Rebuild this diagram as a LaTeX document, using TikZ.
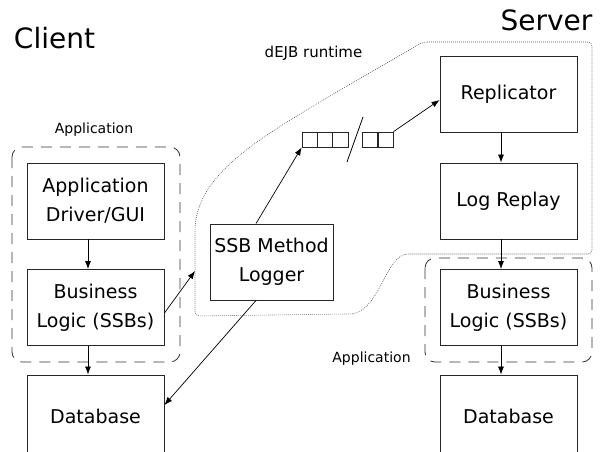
\documentclass[tikz,border=0pt]{standalone}
\usepackage{fontspec}
\setmainfont{DejaVu Sans}
\usetikzlibrary{arrows.meta}
\tikzset{
  box/.style={draw=black!85,line width=0.9pt,minimum width=137pt,minimum height=76pt,inner sep=2pt,align=center,font=\fontsize{19}{29}\selectfont},
  cell/.style={draw=black!85,line width=0.8pt,minimum width=15.3pt,minimum height=15pt,inner sep=0pt},
  appl/.style={draw=black!80,line width=0.8pt,dash pattern=on 11pt off 8pt,rounded corners=10pt},
  runtime/.style={draw=black!70,line width=0.6pt,dash pattern=on 0.8pt off 1.2pt,rounded corners=4pt},
  link/.style={-{Latex[length=8pt,width=6pt]},line width=0.7pt},
}
\begin{document}
\begin{tikzpicture}[x=1pt,y=-1pt]
 	\clip (0,0) rectangle (607,451);
 	\node[anchor=base,font=\fontsize{28}{34}\selectfont] (cli) at (54.5,48) {Client};
 	\node[anchor=base,font=\fontsize{28}{34}\selectfont] (srv) at (546.5,30) {Server};
 	\node[anchor=base,font=\fontsize{15}{18}\selectfont] (rtl) at (313.5,57) {dEJB runtime};
 	\draw[runtime] (423,42) -- (592,42) -- (592,254) -- (412,254) .. controls (385,254) and (380,314) .. (345,314) -- (195,316) -- (195,235) .. controls (195,175) and (260,138) .. (330,96) -- cycle;
 	\draw[appl] (12,147) rectangle (180,362);
 	\draw[appl] (425,258) rectangle (592,362);
 	\node[anchor=base,font=\fontsize{14}{17}\selectfont] (apl) at (94,133) {Application};
 	\node[anchor=base,font=\fontsize{14}{17}\selectfont] (apr) at (371.5,362) {Application};
 	\node[box] (drv) at (95.5,201) {Application\\Driver/GUI};
 	\node[box] (bll) at (95.5,307.5) {Business\\Logic (SSBs)};
 	\node[box,minimum height=82pt] (dbl) at (95.5,416) {Database};
 	\node[box,minimum width=123pt] (lgr) at (271.5,262) {SSB Method\\Logger};
 	\node[box] (rep) at (508.5,94) {Replicator};
 	\node[box] (lrp) at (508.5,201) {Log Replay};
 	\node[box] (blr) at (508.5,307.5) {Business\\Logic (SSBs)};
 	\node[box,minimum height=82pt] (dbr) at (508.5,416) {Database};
 	\foreach \i in {0,1,2}
 	   	\node[cell] (q\i) at ({309.7+15.33*\i},139.5) {};
 	\foreach \i in {0,1}
 	   	\node[cell] (r\i) at ({370.5+15*\i},139.5) {};
 	\draw[line width=0.8pt] (347,162) -- (363,117);
 	\foreach \a/\b in {drv/bll,bll/dbl,rep/lrp,lrp/blr,blr/dbr}
 	   	\draw[link] ([xshift=-7.5pt]\a.south) -- ([xshift=-7.5pt]\b.north);
 	\coordinate (edg) at (195,271);
 	\draw[link] ([yshift=-5.5pt]bll.east) -- (edg);
 	\draw[link] ([xshift=-15.5pt]lgr.north) -- (q0.south west);
 	\draw[link] ([xshift=-15.5pt]lgr.south) -- ([yshift=11pt]dbl.east);
 	\draw[link] (r1.north east) -- ([yshift=-6pt]rep.west);
\end{tikzpicture}
\end{document}
